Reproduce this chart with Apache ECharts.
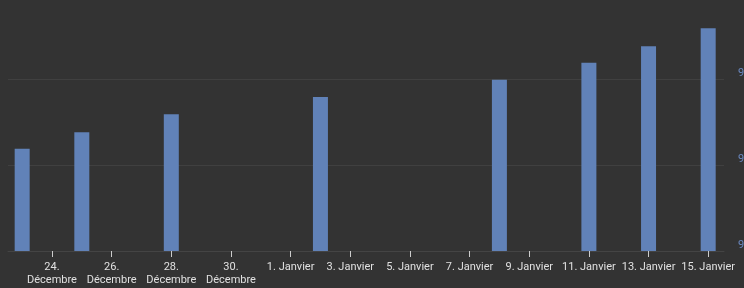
<!DOCTYPE html>
<html>
<head>
<meta charset="utf-8">
<script src="https://cdn.jsdelivr.net/npm/echarts@6/dist/echarts.min.js"></script>
<style>
html,body{margin:0;padding:0;background:#333333;}
#c{width:744px;height:288px;}
</style>
</head>
<body>
<div id="c"></div>
<script>
// Data
var categories = ["2023-12-23","2023-12-25","2023-12-28","2024-01-02","2024-01-08","2024-01-11","2024-01-13","2024-01-15"];
var values = [91.19, 91.38, 91.59, 91.79, 91.99, 92.19, 92.38, 92.59];
var tickDates = ["2023-12-24","2023-12-26","2023-12-28","2023-12-30","2024-01-01","2024-01-03","2024-01-05","2024-01-07","2024-01-09","2024-01-11","2024-01-13","2024-01-15"];
var tickLabels = ["24.\nDécembre","26.\nDécembre","28.\nDécembre","30.\nDécembre","1. Janvier","3. Janvier","5. Janvier","7. Janvier","9. Janvier","11. Janvier","13. Janvier","15. Janvier"];
var yTicks = [90, 91, 92, 93];

var DAY = 86400000;
var origin = Date.UTC(2023, 11, 24);
function dayOf(s){ var p = s.split('-'); return (Date.UTC(+p[0], +p[1]-1, +p[2]) - origin) / DAY; }
var tickPos = tickDates.map(dayOf);
var labelMap = {};
tickPos.forEach(function(p,i){ labelMap[p] = tickLabels[i]; });

var chart = echarts.init(document.getElementById('c'), null, {renderer:'canvas'});
chart.setOption({
  backgroundColor: '#333333',
  animation: false,
  grid: {left: 8, right: 20, top: -7, bottom: 37, containLabel: false, outerBoundsMode: 'none'},
  xAxis: {
    type: 'value',
    min: -1.475,
    max: 22.53,
    splitLine: {show: false},
    axisLine: {show: true, onZero: false, lineStyle: {color: '#444444', width: 1}},
    axisTick: {show: true, customValues: tickPos, length: 6, lineStyle: {color: '#cccccc', width: 1}},
    axisLabel: {
      show: true,
      customValues: tickPos,
      color: '#e0e0e0',
      fontFamily: 'Roboto',
      fontSize: 11,
      lineHeight: 13,
      margin: 10,
      hideOverlap: false,
      formatter: function(v){ return labelMap[v] || ''; }
    }
  },
  yAxis: {
    type: 'value',
    position: 'right',
    min: yTicks[0],
    max: yTicks[yTicks.length-1],
    interval: 1,
    axisLine: {show: false},
    axisTick: {show: false},
    splitLine: {show: true, lineStyle: {color: '#404040', width: 1}},
    axisLabel: {
      color: '#6a88c0',
      fontFamily: 'Roboto',
      fontSize: 11,
      margin: 14,
      verticalAlign: 'bottom'
    }
  },
  series: [{
    type: 'bar',
    barWidth: 15,
    itemStyle: {color: '#6182b8'},
    data: categories.map(function(c,i){ return [dayOf(c), values[i]]; })
  }]
});
</script>
</body>
</html>
